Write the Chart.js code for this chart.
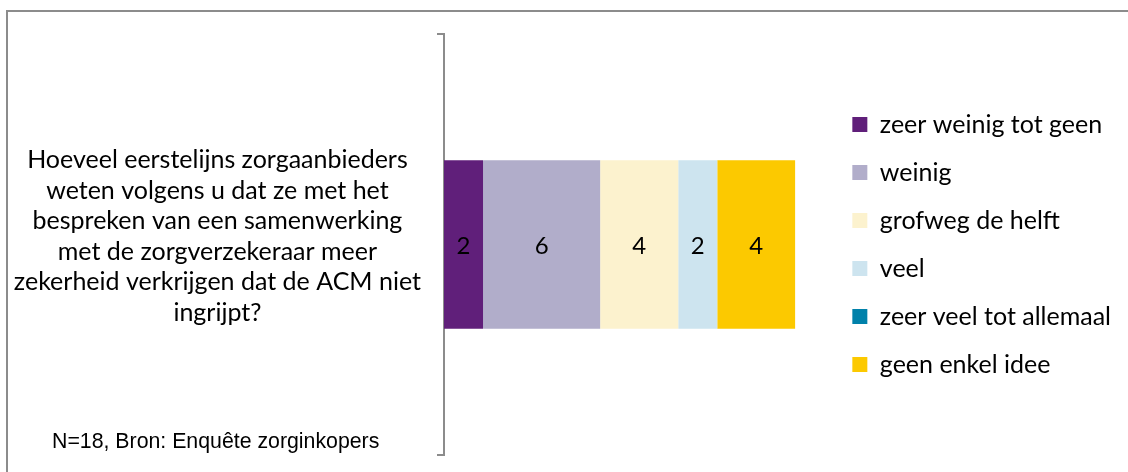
<!DOCTYPE html>
<html>
<head>
<meta charset="utf-8">
<script src="https://cdn.jsdelivr.net/npm/chart.js"></script>
<style>
  html, body { margin: 0; background: #fff; }
  #wrap { width: 1128px; height: 472px; }
</style>
</head>
<body>
<div id="wrap"><canvas id="acmChart" width="1128" height="472"></canvas></div>
<script>
const categories = [[
  'Hoeveel eerstelijns zorgaanbieders',
  'weten volgens u dat ze met het',
  'bespreken van een samenwerking',
  'met de zorgverzekeraar meer',
  'zekerheid verkrijgen dat de ACM niet',
  'ingrijpt?'
]];
const answers = ['zeer weinig tot geen', 'weinig', 'grofweg de helft', 'veel', 'zeer veel tot allemaal', 'geen enkel idee'];
const answerCounts = [2, 6, 4, 2, 0, 4];
const answerColors = ['#601f7a', '#b1adca', '#fcf2ce', '#cde4ef', '#0081aa', '#fcc900'];
const respondents = 18;
const sourceNote = 'N=18, Bron: Enquête zorginkopers';

const labelFont = { family: 'Lato', size: 25 };
const axisGrey = '#8c8c8c';

// grey frame along the top and left edge
const frame = {
  id: 'frame',
  beforeDraw(chart) {
    const c = chart.ctx;
    c.save();
    c.strokeStyle = axisGrey;
    c.lineWidth = 2;
    c.beginPath();
    c.moveTo(7, chart.height);
    c.lineTo(7, 11);
    c.lineTo(chart.width, 11);
    c.stroke();
    c.restore();
  }
};

// counts written in the middle of each segment
const segmentValues = {
  id: 'segmentValues',
  afterDatasetsDraw(chart) {
    const c = chart.ctx;
    c.save();
    c.font = `24px ${labelFont.family}`;
    c.fillStyle = '#000';
    c.textAlign = 'center';
    c.textBaseline = 'middle';
    chart.data.datasets.forEach((ds, i) => {
      const meta = chart.getDatasetMeta(i);
      meta.data.forEach((bar, j) => {
        const v = ds.data[j];
        if (!v) return;
        const p = bar.getCenterPoint();
        c.fillText(String(v), p.x, p.y + 2);
      });
    });
    c.restore();
  }
};

const footnote = {
  id: 'footnote',
  afterDraw(chart) {
    const c = chart.ctx;
    c.save();
    c.font = '21.3px "Liberation Sans", Arial, sans-serif';
    c.fillStyle = '#000';
    c.textAlign = 'left';
    c.textBaseline = 'middle';
    c.fillText(sourceNote, 52, 442);
    c.restore();
  }
};

new Chart(document.getElementById('acmChart'), {
  type: 'bar',
  data: {
    labels: categories,
    datasets: answers.map((name, i) => ({
      label: name,
      data: [answerCounts[i]],
      backgroundColor: answerColors[i],
      borderWidth: 0,
      barPercentage: 0.4,
      categoryPercentage: 1
    }))
  },
  options: {
    indexAxis: 'y',
    responsive: false,
    animation: false,
    devicePixelRatio: 1,
    layout: { padding: { top: 34, bottom: 17, left: 10, right: 7 } },
    scales: {
      x: {
        stacked: true,
        display: false,
        min: 0,
        max: respondents
      },
      y: {
        stacked: true,
        offset: true,
        z: 1,
        grid: { offset: true, drawOnChartArea: false, tickLength: 7, color: axisGrey, lineWidth: 2 },
        border: { color: axisGrey, width: 2 },
        ticks: {
          crossAlign: 'center',
          padding: 16,
          labelOffset: -8,
          color: '#000',
          font: { family: labelFont.family, size: labelFont.size, lineHeight: 1.22 }
        },
        afterFit(scale) {
          scale.width = 434;
          // keep the tall label from pushing the plot area in
          scale.paddingTop = 0;
          scale.paddingBottom = 0;
        }
      },
      // empty strip between the bar and the legend
      gap: {
        type: 'category',
        position: 'right',
        grid: { display: false },
        border: { display: false },
        ticks: { display: false },
        afterFit(scale) { scale.width = 34; }
      }
    },
    plugins: {
      legend: {
        position: 'right',
        align: 'center',
        maxWidth: 400,
        labels: {
          boxWidth: 15,
          boxHeight: 15,
          padding: 23,
          color: '#000',
          font: labelFont
        }
      },
      tooltip: { enabled: false }
    }
  },
  plugins: [frame, segmentValues, footnote]
});
</script>
</body>
</html>
